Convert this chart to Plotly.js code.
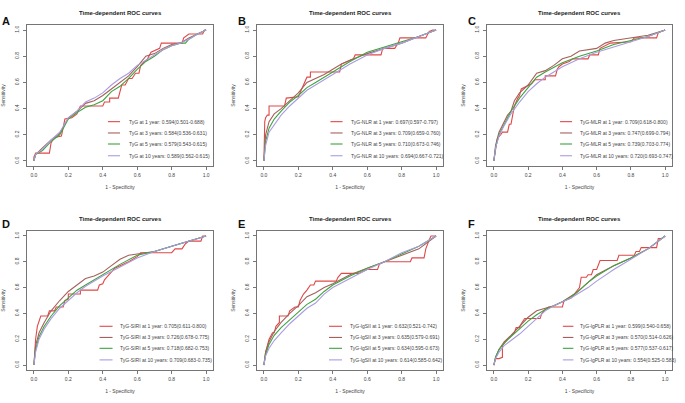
<!DOCTYPE html>
<html><head><meta charset="utf-8">
<script src="https://cdn.plot.ly/plotly-3.0.1.min.js"></script>
<style>html,body{margin:0;padding:0;background:#fff}#chart{width:685px;height:403px}</style>
</head><body><div id="chart"></div><script>
// ---------- data ----------
const panelLetters = ['A','B','C','D','E','F'];
const indexNames = ['TyG','TyG-NLR','TyG-MLR','TyG-SIRI','TyG-lgSII','TyG-lgPLR'];
const timeLabels = ['1 year','3 years','5 years','10 years'];
const seriesColors = ['#e04848','#a5605c','#3fa33f','#a99ce0'];

const aucA = ['0.594(0.501-0.688)','0.584(0.536-0.631)','0.579(0.543-0.615)','0.589(0.562-0.615)'];
const aucB = ['0.697(0.597-0.797)','0.709(0.659-0.760)','0.710(0.673-0.746)','0.694(0.667-0.721)'];
const aucC = ['0.709(0.618-0.800)','0.747(0.699-0.794)','0.739(0.703-0.774)','0.720(0.693-0.747)'];
const aucD = ['0.705(0.611-0.800)','0.726(0.678-0.775)','0.718(0.682-0.753)','0.709(0.683-0.735)'];
const aucE = ['0.632(0.521-0.742)','0.635(0.579-0.691)','0.634(0.595-0.673)','0.614(0.585-0.642)'];
const aucF = ['0.599(0.540-0.658)','0.570(0.514-0.626)','0.577(0.537-0.617)','0.554(0.525-0.583)'];

// Panel A: TyG
const fprA1 = [0,0,0.01,0.09,0.1,0.12,0.16,0.18,0.22,0.25,0.27,0.4,0.41,0.44,0.44,0.49,0.51,0.53,0.55,0.57,0.59,0.61,0.62,0.66,0.68,0.73,0.74,0.86,0.87,0.9,0.98,0.99,1];
const tprA1 = [0,0.03,0.06,0.06,0.14,0.18,0.19,0.32,0.33,0.36,0.42,0.42,0.45,0.45,0.48,0.48,0.58,0.58,0.63,0.63,0.67,0.67,0.73,0.78,0.83,0.86,0.9,0.9,0.94,0.97,0.97,1,1];
const fprA3 = [0,0.01,0.05,0.1,0.15,0.2,0.25,0.3,0.35,0.4,0.45,0.5,0.55,0.6,0.65,0.7,0.75,0.8,0.85,0.9,0.95,1];
const tprA3 = [0,0.05,0.1,0.16,0.21,0.33,0.38,0.44,0.46,0.5,0.55,0.6,0.65,0.72,0.8,0.82,0.86,0.89,0.9,0.94,0.97,1];
const fprA5 = [0,0.01,0.05,0.1,0.15,0.2,0.25,0.3,0.35,0.4,0.45,0.5,0.55,0.6,0.65,0.7,0.75,0.8,0.85,0.88,0.9,0.95,1];
const tprA5 = [0,0.05,0.08,0.15,0.2,0.32,0.37,0.41,0.43,0.46,0.53,0.57,0.63,0.7,0.76,0.8,0.85,0.88,0.9,0.9,0.93,0.97,1];
const fprA10 = [0,0.01,0.05,0.1,0.15,0.2,0.25,0.3,0.35,0.4,0.45,0.5,0.55,0.6,0.65,0.7,0.75,0.8,0.85,0.9,0.95,1];
const tprA10 = [0,0.05,0.09,0.16,0.22,0.33,0.38,0.45,0.48,0.52,0.58,0.63,0.67,0.73,0.77,0.81,0.85,0.88,0.9,0.93,0.97,1];

// Panel B: TyG-NLR
const fprB1 = [0,0.005,0.01,0.02,0.03,0.03,0.12,0.13,0.2,0.22,0.24,0.25,0.27,0.27,0.44,0.45,0.52,0.53,0.68,0.69,0.76,0.78,0.79,0.94,0.96,0.98,1];
const tprB1 = [0,0.3,0.33,0.35,0.35,0.42,0.42,0.48,0.49,0.55,0.6,0.64,0.64,0.68,0.68,0.74,0.78,0.81,0.81,0.86,0.86,0.9,0.94,0.94,0.99,1,1];
const fprB3 = [0,0.01,0.03,0.06,0.1,0.15,0.2,0.25,0.3,0.35,0.4,0.45,0.5,0.6,0.7,0.8,0.9,1];
const tprB3 = [0,0.2,0.3,0.36,0.4,0.46,0.52,0.6,0.63,0.66,0.7,0.74,0.77,0.82,0.86,0.9,0.95,1];
const fprB5 = [0,0.01,0.03,0.06,0.1,0.15,0.2,0.25,0.3,0.4,0.5,0.6,0.7,0.8,0.9,1];
const tprB5 = [0,0.15,0.25,0.32,0.38,0.45,0.5,0.56,0.6,0.68,0.76,0.83,0.87,0.91,0.95,1];
const fprB10 = [0,0.01,0.03,0.06,0.1,0.15,0.2,0.25,0.3,0.4,0.5,0.6,0.7,0.8,0.9,1];
const tprB10 = [0,0.12,0.22,0.28,0.35,0.42,0.48,0.54,0.58,0.66,0.74,0.81,0.86,0.9,0.95,1];

// Panel C: TyG-MLR
const fprC1 = [0,0.01,0.02,0.04,0.05,0.08,0.09,0.1,0.11,0.12,0.14,0.15,0.16,0.2,0.22,0.24,0.3,0.3,0.36,0.37,0.38,0.4,0.44,0.46,0.55,0.56,0.61,0.62,0.68,0.8,0.82,0.95,0.96,1];
const tprC1 = [0,0.1,0.17,0.2,0.22,0.22,0.28,0.28,0.35,0.42,0.48,0.5,0.55,0.58,0.59,0.62,0.62,0.65,0.65,0.7,0.72,0.74,0.76,0.78,0.78,0.81,0.81,0.86,0.9,0.91,0.94,0.94,0.98,1];
const fprC3 = [0,0.01,0.03,0.06,0.08,0.1,0.12,0.15,0.2,0.25,0.3,0.35,0.4,0.45,0.5,0.6,0.65,0.7,0.8,0.9,1];
const tprC3 = [0,0.12,0.22,0.3,0.35,0.38,0.46,0.52,0.58,0.67,0.69,0.73,0.78,0.8,0.84,0.86,0.9,0.92,0.94,0.96,1];
const fprC5 = [0,0.01,0.03,0.06,0.1,0.15,0.2,0.25,0.3,0.4,0.5,0.6,0.7,0.8,0.9,1];
const tprC5 = [0,0.1,0.2,0.28,0.38,0.48,0.56,0.64,0.68,0.75,0.8,0.84,0.89,0.92,0.95,1];
const fprC10 = [0,0.01,0.03,0.06,0.1,0.15,0.2,0.25,0.3,0.4,0.5,0.6,0.7,0.8,0.9,1];
const tprC10 = [0,0.1,0.19,0.27,0.36,0.45,0.53,0.59,0.64,0.72,0.78,0.83,0.87,0.91,0.95,1];

// Panel D: TyG-SIRI
const fprD1 = [0,0.01,0.02,0.04,0.08,0.09,0.12,0.13,0.17,0.18,0.2,0.2,0.27,0.27,0.37,0.38,0.4,0.41,0.43,0.45,0.47,0.55,0.6,0.62,0.8,0.82,0.86,0.88,0.9,0.97,0.98,1];
const tprD1 = [0,0.2,0.3,0.38,0.38,0.42,0.42,0.45,0.45,0.5,0.51,0.55,0.55,0.58,0.58,0.62,0.63,0.66,0.69,0.72,0.75,0.8,0.84,0.87,0.87,0.9,0.9,0.94,0.96,0.96,1,1];
const fprD3 = [0,0.01,0.03,0.06,0.1,0.15,0.2,0.25,0.3,0.35,0.4,0.45,0.5,0.55,0.6,0.7,0.8,0.9,1];
const tprD3 = [0,0.15,0.25,0.33,0.42,0.5,0.57,0.62,0.67,0.69,0.72,0.77,0.82,0.85,0.86,0.88,0.92,0.96,1];
const fprD5 = [0,0.01,0.03,0.06,0.1,0.15,0.2,0.25,0.3,0.4,0.5,0.6,0.7,0.8,0.9,1];
const tprD5 = [0,0.12,0.22,0.3,0.38,0.46,0.52,0.58,0.62,0.7,0.78,0.85,0.88,0.92,0.96,1];
const fprD10 = [0,0.01,0.03,0.06,0.1,0.15,0.2,0.25,0.3,0.4,0.5,0.6,0.7,0.8,0.9,1];
const tprD10 = [0,0.1,0.2,0.28,0.36,0.44,0.5,0.56,0.61,0.69,0.76,0.83,0.88,0.92,0.96,1];

// Panel E: TyG-lgSII
const fprE1 = [0,0.01,0.03,0.05,0.06,0.07,0.09,0.09,0.14,0.15,0.18,0.2,0.21,0.23,0.25,0.27,0.29,0.3,0.42,0.43,0.45,0.55,0.6,0.66,0.67,0.7,0.85,0.86,0.93,0.94,0.96,0.97,1];
const tprE1 = [0,0.1,0.2,0.25,0.25,0.3,0.33,0.38,0.38,0.42,0.45,0.45,0.5,0.55,0.58,0.62,0.62,0.65,0.65,0.68,0.71,0.71,0.74,0.74,0.78,0.8,0.8,0.83,0.83,0.9,0.97,1,1];
const fprE3 = [0,0.01,0.03,0.06,0.1,0.15,0.2,0.25,0.3,0.35,0.4,0.5,0.6,0.7,0.8,0.9,1];
const tprE3 = [0,0.1,0.18,0.26,0.33,0.4,0.46,0.53,0.56,0.6,0.63,0.7,0.75,0.8,0.85,0.9,1];
const fprE5 = [0,0.01,0.03,0.06,0.1,0.15,0.2,0.25,0.3,0.35,0.4,0.5,0.6,0.7,0.8,0.9,1];
const tprE5 = [0,0.08,0.16,0.23,0.29,0.35,0.41,0.47,0.51,0.57,0.62,0.69,0.75,0.8,0.86,0.92,1];
const fprE10 = [0,0.01,0.03,0.06,0.1,0.15,0.2,0.25,0.3,0.35,0.4,0.5,0.6,0.7,0.8,0.9,1];
const tprE10 = [0,0.07,0.13,0.19,0.25,0.32,0.38,0.44,0.48,0.55,0.6,0.67,0.74,0.8,0.87,0.92,1];

// Panel F: TyG-lgPLR
const fprF1 = [0,0.01,0.03,0.05,0.05,0.08,0.12,0.13,0.15,0.16,0.18,0.27,0.28,0.3,0.32,0.4,0.41,0.47,0.5,0.51,0.54,0.55,0.57,0.58,0.6,0.62,0.72,0.73,0.82,0.83,0.85,0.86,0.95,0.96,0.98,1];
const tprF1 = [0,0.05,0.05,0.06,0.15,0.2,0.25,0.29,0.29,0.32,0.36,0.36,0.4,0.43,0.45,0.45,0.5,0.55,0.6,0.68,0.68,0.7,0.7,0.74,0.74,0.81,0.81,0.85,0.85,0.88,0.88,0.91,0.91,0.98,0.98,1];
const fprF3 = [0,0.01,0.03,0.06,0.1,0.15,0.2,0.25,0.3,0.35,0.4,0.45,0.5,0.55,0.6,0.7,0.8,0.9,1];
const tprF3 = [0,0.06,0.12,0.18,0.23,0.3,0.37,0.42,0.44,0.46,0.49,0.52,0.58,0.64,0.7,0.77,0.83,0.9,1];
const fprF5 = [0,0.01,0.03,0.06,0.1,0.15,0.2,0.25,0.3,0.35,0.4,0.45,0.5,0.55,0.6,0.7,0.8,0.9,1];
const tprF5 = [0,0.06,0.12,0.17,0.22,0.28,0.34,0.39,0.43,0.46,0.49,0.53,0.58,0.64,0.69,0.77,0.83,0.9,1];
const fprF10 = [0,0.01,0.03,0.06,0.1,0.15,0.2,0.25,0.3,0.35,0.4,0.45,0.5,0.55,0.6,0.7,0.8,0.9,1];
const tprF10 = [0,0.05,0.1,0.15,0.19,0.24,0.3,0.36,0.42,0.46,0.49,0.52,0.56,0.6,0.65,0.74,0.82,0.9,1];

const tickVals = [0,0.2,0.4,0.6,0.8,1];
const tickText = ['0.0','0.2','0.4','0.6','0.8','1.0'];

// ---------- assembly ----------
const panels = [
  {auc:aucA, fpr:[fprA1,fprA3,fprA5,fprA10], tpr:[tprA1,tprA3,tprA5,tprA10]},
  {auc:aucB, fpr:[fprB1,fprB3,fprB5,fprB10], tpr:[tprB1,tprB3,tprB5,tprB10]},
  {auc:aucC, fpr:[fprC1,fprC3,fprC5,fprC10], tpr:[tprC1,tprC3,tprC5,tprC10]},
  {auc:aucD, fpr:[fprD1,fprD3,fprD5,fprD10], tpr:[tprD1,tprD3,tprD5,tprD10]},
  {auc:aucE, fpr:[fprE1,fprE3,fprE5,fprE10], tpr:[tprE1,tprE3,tprE5,tprE10]},
  {auc:aucF, fpr:[fprF1,fprF3,fprF5,fprF10], tpr:[tprF1,tprF3,tprF5,tprF10]}
];

const W = 685, H = 403;
const colPx = [[27,213],[257,443],[487,672]];
const rowPx = [[24.8,166.2],[230.8,370.2]];
const FONT = 'Liberation Sans, Arial, sans-serif';

const data = [];
const layout = {
  width: W, height: H,
  margin: {l:0,r:0,t:0,b:0},
  paper_bgcolor: '#fff', plot_bgcolor: '#fff',
  showlegend: false,
  font: {family: FONT, color: '#333'},
  annotations: [], shapes: []
};

// legend placement (fraction of plot domain)
const legPos = [
  {x0:0.435, x1:0.50, tx:0.535},
  {x0:0.395, x1:0.46, tx:0.492},
  {x0:0.395, x1:0.46, tx:0.492},
  {x0:0.39, x1:0.46, tx:0.49},
  {x0:0.387, x1:0.457, tx:0.487},
  {x0:0.41, x1:0.467, tx:0.49}
];
const legRows = [0.315, 0.235, 0.157, 0.074];

panels.forEach((p, i) => {
  const n = i === 0 ? '' : String(i + 1);
  const col = i % 3, row = Math.floor(i / 3);
  const xd = [colPx[col][0] / W, colPx[col][1] / W];
  const yd = [1 - rowPx[row][1] / H, 1 - rowPx[row][0] / H];
  const axCommon = {
    range: [-0.04, 1.04], tickvals: tickVals, ticktext: tickText,
    ticks: 'outside', ticklen: 3, tickwidth: 0.8, tickcolor: '#555',
    showline: true, linecolor: '#666', linewidth: 0.9, mirror: true,
    showgrid: false, zeroline: false, fixedrange: true,
    tickfont: {family: FONT, size: 5, color: '#444'}
  };
  layout['xaxis' + n] = Object.assign({}, axCommon, {
    domain: xd, anchor: 'y' + n, ticklabelstandoff: 1,
    title: {text: '1 - Specificity', font: {family: FONT, size: 5, color: '#444'}, standoff: 8}
  });
  layout['yaxis' + n] = Object.assign({}, axCommon, {
    domain: yd, anchor: 'x' + n, tickangle: -90, ticklabelstandoff: 2,
    title: {text: 'Sensitivity', font: {family: FONT, size: 5, color: '#444'}, standoff: 8}
  });
  for (let k = 0; k < 4; k++) {
    const label = indexNames[i] + ' at ' + timeLabels[k] + ': ' + p.auc[k];
    data.push({
      type: 'scatter', mode: 'lines',
      x: p.fpr[k], y: p.tpr[k],
      xaxis: 'x' + n, yaxis: 'y' + n,
      name: label,
      line: {color: seriesColors[k], width: 1.1},
      hoverinfo: 'name'
    });
    const lp = legPos[i];
    layout.shapes.push({
      type: 'line', xref: 'x' + n + ' domain', yref: 'y' + n + ' domain',
      x0: lp.x0, x1: lp.x1, y0: legRows[k], y1: legRows[k],
      line: {color: seriesColors[k], width: 1.1}
    });
    layout.annotations.push({
      xref: 'x' + n + ' domain', yref: 'y' + n + ' domain',
      x: lp.tx, y: legRows[k], xanchor: 'left', yanchor: 'middle',
      text: label, showarrow: false,
      font: {family: FONT, size: 5, color: '#444'}
    });
  }
  // panel title
  layout.annotations.push({
    xref: 'x' + n + ' domain', yref: 'y' + n + ' domain',
    x: 0.5, y: 1, yshift: 12, xanchor: 'center', yanchor: 'middle',
    text: '<b>Time-dependent ROC curves</b>', showarrow: false,
    font: {family: FONT, size: 6, color: '#222'}
  });
  // panel letter
  layout.annotations.push({
    xref: 'paper', yref: 'paper',
    x: (col === 0 ? 0 : colPx[col][0] - 21) / W,
    y: 1 - (row === 0 ? 21 : 224) / H,
    xanchor: 'left', yanchor: 'middle',
    text: '<b>' + panelLetters[i] + '</b>', showarrow: false,
    font: {family: FONT, size: 11, color: '#111'}
  });
});

Plotly.newPlot('chart', data, layout, {displayModeBar: false, staticPlot: true});
</script></body></html>
